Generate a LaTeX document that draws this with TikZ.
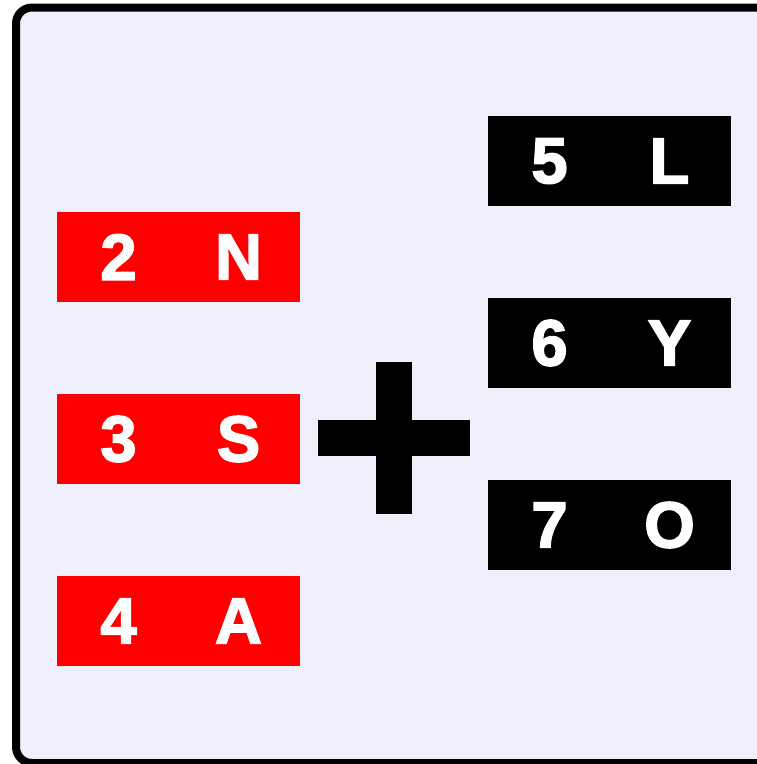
\documentclass[tikz,border=0pt]{standalone}
\usepackage{fontspec}
\setmainfont{Liberation Sans}
\newfontfamily\tilefont[FakeBold=2.5]{Liberation Sans Bold}
\usepackage{xcolor}
\definecolor{panelbg}{RGB}{240,240,253}

\begin{document}
\begin{tikzpicture}[x=1pt,y=-1pt]
		\tikzstyle{every node}=[font=\tilefont\fontsize{65}{65}\selectfont, text=white, inner sep=0pt]
		\tikzstyle{redbox}=[fill=red, minimum width=243pt, minimum height=90pt]
		\tikzstyle{blackbox}=[fill=black, minimum width=243pt, minimum height=90pt]
		\useasboundingbox (0,0) rectangle (757,764);
		\clip (0,0) rectangle (757,764);
		% panel
		\draw [line width=8pt, rounded corners=16pt, fill=panelbg] (16,7.5) rectangle (800,763);
		% left column
		\node [redbox] (b2) at (178.5,257) {};
		\node [redbox] (b3) at (178.5,439) {};
		\node [redbox] (b4) at (178.5,621) {};
		\node at ([xshift=-60pt]b2.center) {2};
		\node at ([xshift=60pt]b2.center) {N};
		\node at ([xshift=-60pt]b3.center) {3};
		\node at ([xshift=60pt]b3.center) {S};
		\node at ([xshift=-60pt]b4.center) {4};
		\node at ([xshift=60pt]b4.center) {A};
		% plus sign
		\fill (376,362) rectangle (412,514);
		\fill (318,420) rectangle (470,456);
		% right column
		\node [blackbox] (b5) at (609.5,161) {};
		\node [blackbox] (b6) at (609.5,343) {};
		\node [blackbox] (b7) at (609.5,525) {};
		\node at ([xshift=-60pt]b5.center) {5};
		\node at ([xshift=60pt]b5.center) {L};
		\node at ([xshift=-60pt]b6.center) {6};
		\node at ([xshift=60pt]b6.center) {Y};
		\node at ([xshift=-60pt]b7.center) {7};
		\node at ([xshift=60pt]b7.center) {O};
	\end{tikzpicture}
\end{document}
